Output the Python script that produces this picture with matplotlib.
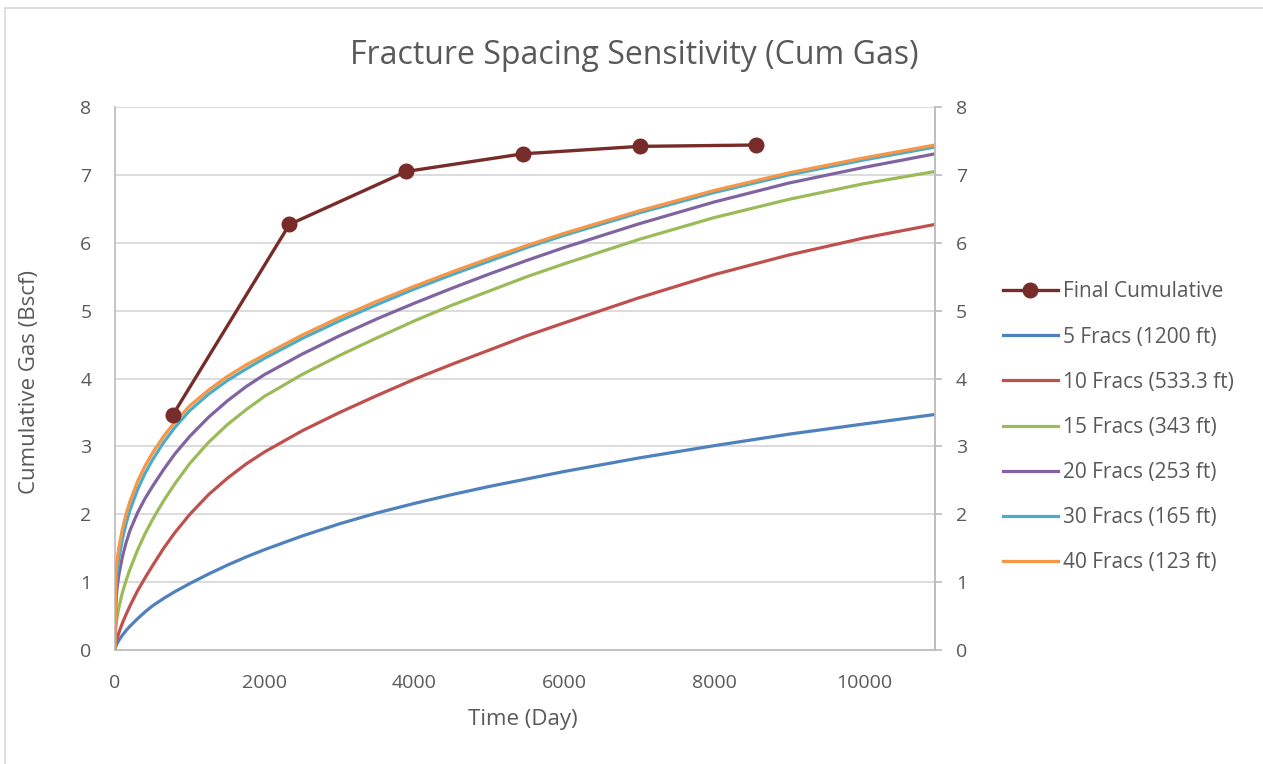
import matplotlib
matplotlib.use("Agg")
import matplotlib.pyplot as plt
from matplotlib.lines import Line2D

plt.rcParams['font.family'] = ['Open Sans', 'DejaVu Sans']

# ---- data ----
time_days = [0, 10, 25, 50, 100, 150, 200, 300, 400, 500, 650, 800, 1000, 1250,
             1500, 1750, 2000, 2500, 3000, 3500, 4000, 4500, 5000, 5500, 6000,
             7000, 8000, 9000, 10000, 10950]

frac5 = [0, 0.05, 0.09, 0.14, 0.22, 0.29, 0.35, 0.46, 0.56, 0.65, 0.76, 0.86, 0.98,
         1.12, 1.25, 1.37, 1.48, 1.68, 1.86, 2.02, 2.16, 2.29, 2.41, 2.52, 2.63,
         2.83, 3.01, 3.18, 3.33, 3.47]
frac10 = [0, 0.08, 0.15, 0.25, 0.40, 0.53, 0.65, 0.87, 1.06, 1.24, 1.50, 1.73, 2.00,
          2.29, 2.53, 2.74, 2.92, 3.23, 3.50, 3.75, 3.99, 4.21, 4.42, 4.63, 4.82,
          5.19, 5.53, 5.82, 6.07, 6.27]
frac15 = [0, 0.32, 0.46, 0.62, 0.85, 1.03, 1.19, 1.47, 1.71, 1.92, 2.20, 2.45, 2.75,
          3.06, 3.32, 3.54, 3.74, 4.06, 4.34, 4.60, 4.85, 5.08, 5.29, 5.50, 5.69,
          6.05, 6.37, 6.64, 6.87, 7.05]
frac20 = [0, 0.64, 0.89, 1.10, 1.38, 1.59, 1.76, 2.02, 2.23, 2.41, 2.66, 2.89, 3.15,
          3.43, 3.67, 3.88, 4.06, 4.36, 4.63, 4.88, 5.11, 5.33, 5.54, 5.74, 5.93,
          6.28, 6.60, 6.88, 7.11, 7.31]
frac30 = [0, 0.90, 1.12, 1.34, 1.64, 1.87, 2.06, 2.36, 2.60, 2.80, 3.06, 3.28, 3.53,
          3.77, 3.97, 4.14, 4.30, 4.59, 4.85, 5.09, 5.32, 5.53, 5.73, 5.93, 6.11,
          6.44, 6.74, 7.00, 7.22, 7.41]
frac40 = [0, 1.10, 1.30, 1.50, 1.79, 2.01, 2.19, 2.48, 2.71, 2.90, 3.15, 3.36, 3.60,
          3.83, 4.03, 4.20, 4.35, 4.64, 4.90, 5.14, 5.36, 5.57, 5.77, 5.96, 6.14,
          6.47, 6.77, 7.03, 7.25, 7.44]

final_x = [770, 2330, 3890, 5445, 7005, 8560]
final_y = [3.46, 6.27, 7.05, 7.31, 7.42, 7.44]

series_labels = ["5 Fracs (1200 ft)", "10 Fracs (533.3 ft)", "15 Fracs (343 ft)",
                 "20 Fracs (253 ft)", "30 Fracs (165 ft)", "40 Fracs (123 ft)"]
series_values = [frac5, frac10, frac15, frac20, frac30, frac40]
series_colors = ["#4F81BD", "#C0504D", "#9BBB59", "#8064A2", "#4BACC6", "#F79646"]

y_ticks = [0, 1, 2, 3, 4, 5, 6, 7, 8]
x_ticks = [0, 2000, 4000, 6000, 8000, 10000]

text_color = "#595959"
grid_color = "#D9D9D9"
spine_color = "#BFBFBF"

W, H = 1263, 764
fig = plt.figure(figsize=(W / 100, H / 100), dpi=100)
ax = fig.add_axes([115 / W, 1 - 650 / H, (935 - 115) / W, (650 - 107) / H])

# chart border (light gray frame)
fig.add_artist(Line2D([5 / W, 5 / W], [0, 1 - 8 / H], transform=fig.transFigure,
                      color="#D9D9D9", lw=1.2))
fig.add_artist(Line2D([5 / W, 1], [1 - 8 / H, 1 - 8 / H], transform=fig.transFigure,
                      color="#D9D9D9", lw=1.2))

handles = []
h_final, = ax.plot(final_x, final_y, color="#772C2A", lw=2.4, marker="o", ms=10.5,
                   zorder=10, label="Final Cumulative")
handles.append(h_final)
for vals, lab, col in zip(series_values, series_labels, series_colors):
    h, = ax.plot(time_days, vals, color=col, lw=2.3, label=lab, zorder=3,
                 solid_joinstyle="round")
    handles.append(h)

ax.set_xlim(0, 10950)
ax.set_ylim(0, 8)
ax.set_xticks(x_ticks)
ax.set_yticks(y_ticks)
ax.yaxis.grid(True, color=grid_color, lw=1.3, zorder=0)
ax.set_axisbelow(True)

ax.spines["top"].set_visible(False)
for s in ["left", "right", "bottom"]:
    ax.spines[s].set_color(spine_color)
    ax.spines[s].set_linewidth(1.3)

ax.tick_params(axis="x", length=0, pad=17, labelsize=14, labelcolor=text_color)
ax.tick_params(axis="y", length=0, pad=17, labelsize=14, labelcolor=text_color)

ax2 = ax.twinx()
ax2.set_ylim(0, 8)
ax2.set_yticks(y_ticks)
for s in ["top", "left", "bottom"]:
    ax2.spines[s].set_visible(False)
ax2.spines["right"].set_color(spine_color)
ax2.spines["right"].set_linewidth(1.3)
ax2.tick_params(axis="y", length=5, width=1.3, color=spine_color, pad=10,
                labelsize=14, labelcolor=text_color)

fig.text(523 / W, 1 - 720 / H, "Time (Day)", ha="center", va="center",
         fontsize=16, color=text_color)
fig.text(30 / W, 1 - 382 / H, "Cumulative Gas (Bscf)", ha="center", va="center",
         rotation=90, fontsize=16, color=text_color)

fig.text(634 / W, 1 - 55 / H, "Fracture Spacing Sensitivity (Cum Gas)",
         ha="center", va="center", fontsize=23, color=text_color)

leg = fig.legend(handles=handles, loc="upper left",
                 bbox_to_anchor=(995 / W, 1 - 273 / H), frameon=False,
                 fontsize=15, labelcolor=text_color, handlelength=2.6,
                 handletextpad=0.25, labelspacing=1.16, borderaxespad=0)

fig.savefig("out.png", dpi=100)
